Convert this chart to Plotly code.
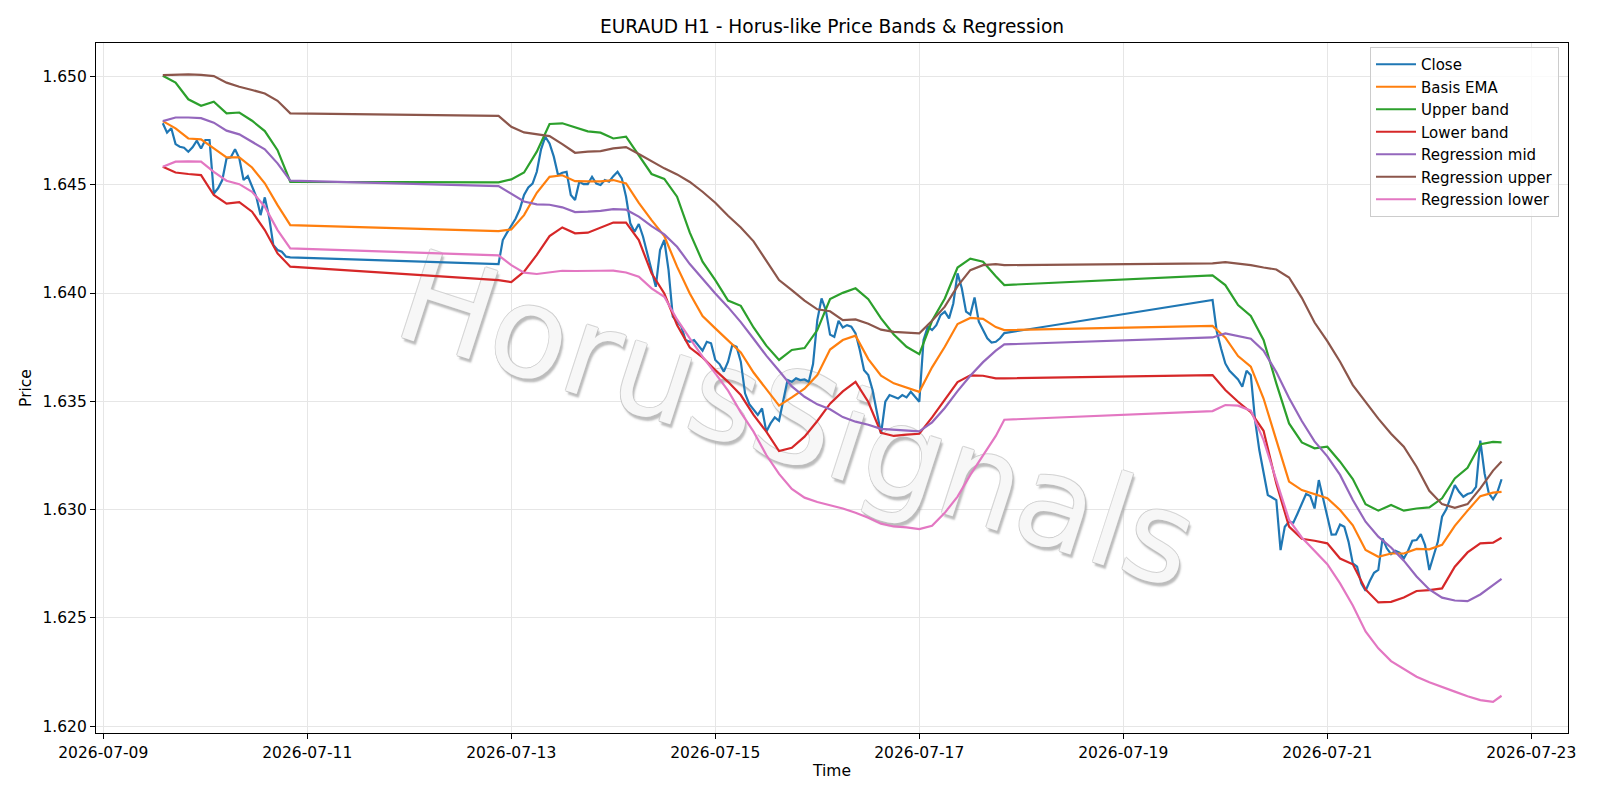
import pandas as pd
import plotly.graph_objects as go

# ---------------- time axis (hourly bars, weekend gaps) ----------------
SEG_A = pd.date_range("2026-07-09 14:00", "2026-07-10 20:00", freq="h")
SEG_B = pd.date_range("2026-07-12 21:00", "2026-07-17 20:00", freq="h")
SEG_C = pd.date_range("2026-07-19 21:00", "2026-07-22 17:00", freq="h")


def every3(seg):
    idx = list(range(0, len(seg), 3))
    if idx[-1] != len(seg) - 1:
        idx.append(len(seg) - 1)
    return seg[idx]


TIME_HOURLY = SEG_A.append(SEG_B).append(SEG_C)
TIME_3H = every3(SEG_A).append(every3(SEG_B)).append(every3(SEG_C))

# ---------------- Close (hourly) ----------------
CLOSE_A = [1.64784, 1.64741, 1.64761, 1.64688, 1.64676, 1.64671, 1.64653, 1.64673, 1.64704, 1.64668,
           1.64707, 1.64707, 1.64460, 1.64484, 1.64522, 1.64622, 1.64627, 1.64664, 1.64622, 1.64522,
           1.64540, 1.64491, 1.64445, 1.64360, 1.64442, 1.64353, 1.64222, 1.64199, 1.64191, 1.64168,
           1.64165]
CLOSE_B = [1.64134, 1.64245, 1.64279, 1.64314, 1.64343, 1.64387, 1.64453, 1.64488, 1.64506, 1.64560,
           1.64664, 1.64722, 1.64691, 1.64630, 1.64545, 1.64556, 1.64560, 1.64453, 1.64430, 1.64514,
           1.64503, 1.64503, 1.64537, 1.64506, 1.64499, 1.64522, 1.64514, 1.64540, 1.64560, 1.64530,
           1.64445, 1.64322, 1.64283, 1.64319, 1.64260, 1.64183, 1.64106, 1.64029, 1.64199, 1.64245,
           1.64106, 1.63891, 1.63868, 1.63845, 1.63783, 1.63775, 1.63783, 1.63760, 1.63734, 1.63775,
           1.63768, 1.63691, 1.63672, 1.63637, 1.63683, 1.63760, 1.63752, 1.63683, 1.63537, 1.63487,
           1.63460, 1.63437, 1.63467, 1.63360, 1.63398, 1.63426, 1.63410, 1.63498, 1.63598, 1.63590,
           1.63606, 1.63598, 1.63601, 1.63590, 1.63672, 1.63875, 1.63975, 1.63921, 1.63808, 1.63798,
           1.63872, 1.63841, 1.63852, 1.63845, 1.63814, 1.63737, 1.63644, 1.63621, 1.63552, 1.63452,
           1.63350, 1.63498, 1.63529, 1.63521, 1.63513, 1.63529, 1.63518, 1.63544, 1.63521, 1.63498,
           1.63783, 1.63845, 1.63829, 1.63852, 1.63898, 1.63914, 1.63883, 1.63952, 1.64091, 1.64022,
           1.63914, 1.63900, 1.63980, 1.63868, 1.63829, 1.63791, 1.63771, 1.63775, 1.63791, 1.63815]
CLOSE_C = [1.63968, 1.63821, 1.63744, 1.63675, 1.63641, 1.63621, 1.63601, 1.63567, 1.63641, 1.63621,
           1.63413, 1.63275, 1.63175, 1.63067, 1.63056, 1.63044, 1.62813, 1.62921, 1.62944, 1.62939,
           1.62982, 1.63028, 1.63072, 1.63062, 1.63005, 1.63136, 1.63053, 1.62967, 1.62884, 1.62885,
           1.62931, 1.62921, 1.62851, 1.62751, 1.62736, 1.62659, 1.62625, 1.62670, 1.62708, 1.62721,
           1.62867, 1.62821, 1.62794, 1.62810, 1.62801, 1.62774, 1.62810, 1.62856, 1.62859, 1.62887,
           1.62836, 1.62721, 1.62782, 1.62851, 1.62967, 1.63001, 1.63056, 1.63113, 1.63082, 1.63059,
           1.63072, 1.63078, 1.63105, 1.63318, 1.63167, 1.63075, 1.63048, 1.63080, 1.63140]
CLOSE = CLOSE_A + CLOSE_B + CLOSE_C

# ---------------- indicator lines (sampled every 3 hours) ----------------
BASIS_EMA = [
    1.64794, 1.64761, 1.64714, 1.64710, 1.64668, 1.64627, 1.64627, 1.64580, 1.64507, 1.64406, 1.64314,
    1.64286, 1.64294, 1.64360, 1.64463, 1.64537, 1.64544, 1.64517, 1.64516, 1.64516, 1.64522, 1.64506,
    1.64417, 1.64337, 1.64263, 1.64122, 1.63998, 1.63894, 1.63837, 1.63783, 1.63726, 1.63633, 1.63557,
    1.63480, 1.63518, 1.63558, 1.63621, 1.63739, 1.63783, 1.63803, 1.63695, 1.63618, 1.63583, 1.63564,
    1.63544, 1.63657, 1.63752, 1.63857, 1.63885, 1.63881, 1.63843, 1.63829,
    1.63848, 1.63794, 1.63709, 1.63660, 1.63513, 1.63321, 1.63129, 1.63090, 1.63070, 1.63052, 1.62998,
    1.62927, 1.62813, 1.62782, 1.62797, 1.62797, 1.62818, 1.62816, 1.62837, 1.62925, 1.62995, 1.63062,
    1.63078, 1.63082]
UPPER_BAND = [
    1.65004, 1.64972, 1.64895, 1.64865, 1.64884, 1.64830, 1.64834, 1.64796, 1.64748, 1.64660, 1.64514,
    1.64511, 1.64525, 1.64557, 1.64653, 1.64781, 1.64784, 1.64765, 1.64747, 1.64741, 1.64714, 1.64722,
    1.64637, 1.64550, 1.64527, 1.64445, 1.64279, 1.64145, 1.64060, 1.63965, 1.63941, 1.63841, 1.63757,
    1.63691, 1.63737, 1.63746, 1.63829, 1.63972, 1.64001, 1.64022, 1.63972, 1.63883, 1.63809, 1.63752,
    1.63718, 1.63872, 1.63975, 1.64118, 1.64159, 1.64145, 1.64078, 1.64037,
    1.64082, 1.64037, 1.63945, 1.63894, 1.63783, 1.63583, 1.63398, 1.63310, 1.63283, 1.63290, 1.63221,
    1.63141, 1.63025, 1.62995, 1.63021, 1.62995, 1.63005, 1.63010, 1.63052, 1.63144, 1.63193, 1.63302,
    1.63313, 1.63310]
LOWER_BAND = [
    1.64583, 1.64557, 1.64550, 1.64545, 1.64453, 1.64413, 1.64420, 1.64376, 1.64291, 1.64183, 1.64122,
    1.64060, 1.64051, 1.64099, 1.64176, 1.64263, 1.64303, 1.64276, 1.64279, 1.64303, 1.64326, 1.64325,
    1.64245, 1.64091, 1.63998, 1.63852, 1.63748, 1.63703, 1.63644, 1.63590, 1.63529, 1.63437, 1.63360,
    1.63270, 1.63285, 1.63337, 1.63409, 1.63489, 1.63546, 1.63590, 1.63497, 1.63355, 1.63340, 1.63346,
    1.63350, 1.63426, 1.63506, 1.63589, 1.63620, 1.63618, 1.63606, 1.63606,
    1.63621, 1.63552, 1.63498, 1.63450, 1.63364, 1.63121, 1.62921, 1.62865, 1.62856, 1.62844, 1.62774,
    1.62747, 1.62631, 1.62571, 1.62574, 1.62594, 1.62624, 1.62628, 1.62636, 1.62736, 1.62802, 1.62844,
    1.62847, 1.62870]
REG_MID = [
    1.64794, 1.64811, 1.64811, 1.64808, 1.64787, 1.64750, 1.64733, 1.64699, 1.64664, 1.64599, 1.64519,
    1.64494, 1.64460, 1.64423, 1.64410, 1.64408, 1.64396, 1.64374, 1.64376, 1.64380, 1.64388, 1.64385,
    1.64353, 1.64309, 1.64271, 1.64214, 1.64134, 1.64065, 1.63998, 1.63935, 1.63866, 1.63789, 1.63711,
    1.63641, 1.63569, 1.63521, 1.63486, 1.63463, 1.63427, 1.63406, 1.63392, 1.63373, 1.63369, 1.63366,
    1.63361, 1.63403, 1.63469, 1.63547, 1.63618, 1.63681, 1.63734, 1.63763,
    1.63795, 1.63814, 1.63803, 1.63789, 1.63734, 1.63635, 1.63515, 1.63409, 1.63315, 1.63246, 1.63160,
    1.63044, 1.62944, 1.62875, 1.62825, 1.62764, 1.62691, 1.62631, 1.62593, 1.62580, 1.62577, 1.62608,
    1.62651, 1.62680]
REG_UPPER = [
    1.65007, 1.65010, 1.65010, 1.65008, 1.65002, 1.64972, 1.64953, 1.64938, 1.64922, 1.64888, 1.64830,
    1.64818, 1.64768, 1.64742, 1.64733, 1.64725, 1.64688, 1.64648, 1.64653, 1.64656, 1.64668, 1.64674,
    1.64642, 1.64607, 1.64576, 1.64548, 1.64513, 1.64468, 1.64417, 1.64357, 1.64303, 1.64239, 1.64150,
    1.64060, 1.64014, 1.63965, 1.63925, 1.63916, 1.63875, 1.63878, 1.63858, 1.63831, 1.63821, 1.63817,
    1.63814, 1.63872, 1.63937, 1.64032, 1.64106, 1.64129, 1.64134, 1.64129,
    1.64137, 1.64143, 1.64137, 1.64129, 1.64118, 1.64109, 1.64072, 1.63978, 1.63864, 1.63778, 1.63683,
    1.63575, 1.63497, 1.63420, 1.63350, 1.63290, 1.63198, 1.63087, 1.63025, 1.63008, 1.63025, 1.63098,
    1.63180, 1.63222]
REG_LOWER = [
    1.64583, 1.64607, 1.64608, 1.64607, 1.64560, 1.64519, 1.64503, 1.64468, 1.64399, 1.64291, 1.64206,
    1.64174, 1.64129, 1.64094, 1.64088, 1.64095, 1.64103, 1.64102, 1.64104, 1.64103, 1.64104, 1.64095,
    1.64076, 1.64022, 1.63983, 1.63878, 1.63791, 1.63706, 1.63629, 1.63549, 1.63449, 1.63360, 1.63252,
    1.63165, 1.63095, 1.63055, 1.63035, 1.63020, 1.63005, 1.62985, 1.62962, 1.62935, 1.62922, 1.62918,
    1.62910, 1.62925, 1.62985, 1.63060, 1.63160, 1.63250, 1.63340, 1.63415,
    1.63455, 1.63483, 1.63480, 1.63457, 1.63321, 1.63136, 1.62952, 1.62871, 1.62810, 1.62748, 1.62659,
    1.62557, 1.62437, 1.62359, 1.62300, 1.62263, 1.62228, 1.62202, 1.62182, 1.62159, 1.62138, 1.62120,
    1.62112, 1.62140]

SERIES = [
    ("Close", TIME_HOURLY, CLOSE, "#1f77b4"),
    ("Basis EMA", TIME_3H, BASIS_EMA, "#ff7f0e"),
    ("Upper band", TIME_3H, UPPER_BAND, "#2ca02c"),
    ("Lower band", TIME_3H, LOWER_BAND, "#d62728"),
    ("Regression mid", TIME_3H, REG_MID, "#9467bd"),
    ("Regression upper", TIME_3H, REG_UPPER, "#8c564b"),
    ("Regression lower", TIME_3H, REG_LOWER, "#e377c2"),
]

Y_TICKS = [1.620, 1.625, 1.630, 1.635, 1.640, 1.645, 1.650]
X_TICKS = ["2026-07-09", "2026-07-11", "2026-07-13", "2026-07-15",
           "2026-07-17", "2026-07-19", "2026-07-21", "2026-07-23"]

TITLE = "EURAUD H1 - Horus-like Price Bands & Regression"
WATERMARK = "HorusSignals"

FONT = "DejaVu Sans"
TICK_SIZE = 15.5

fig = go.Figure()
for name, xs, ys, color in SERIES:
    fig.add_trace(go.Scatter(
        x=xs, y=ys, name=name, mode="lines",
        line=dict(color=color, width=2.2),
    ))

WM_SHADOW = ("-1px 0px 0px rgba(200,200,200,0.9), 0px -1px 0px rgba(200,200,200,0.9), "
             "1px 0px 0px rgba(190,190,190,0.9), 0px 1px 0px rgba(190,190,190,0.9), "
             "3px 3px 2px rgba(150,150,150,0.75)")
WM_X, WM_Y = "2026-07-15 20:00", 1.63455
try:
    fig.add_shape(
        type="rect", xref="x", yref="y",
        x0="2026-07-14 20:00", x1="2026-07-16 20:00", y0=1.6336, y1=1.6355,
        line=dict(width=0), fillcolor="rgba(0,0,0,0)", layer="between",
        label=dict(text=WATERMARK, textangle=18, textposition="middle center",
                   font=dict(family=FONT, size=127, color="rgba(255,255,255,0.85)",
                             shadow=WM_SHADOW)),
    )
except Exception:
    fig.add_annotation(
        text=WATERMARK, x=WM_X, y=WM_Y, xref="x", yref="y",
        showarrow=False, textangle=18,
        font=dict(family=FONT, size=127, color="rgba(255,255,255,0.3)", shadow=WM_SHADOW),
    )

fig.update_layout(
    width=1600, height=800,
    margin=dict(l=96, r=32, t=43, b=67),
    paper_bgcolor="white", plot_bgcolor="white",
    font=dict(family=FONT, size=TICK_SIZE, color="black"),
    title=dict(text=TITLE, x=0.5, xref="paper", xanchor="center",
               y=1 - 26 / 800, yref="container", yanchor="middle",
               font=dict(family=FONT, size=18.6, color="black")),
    legend=dict(x=1 - 9 / 1472, y=1 - 4 / 690, xanchor="right", yanchor="top",
                bgcolor="rgba(255,255,255,0.8)", bordercolor="#cccccc", borderwidth=1,
                font=dict(family=FONT, size=15), itemwidth=40),
    showlegend=True,
)

fig.update_xaxes(
    range=["2026-07-08 22:17", "2026-07-23 08:38"],
    tickvals=X_TICKS, ticktext=X_TICKS,
    showgrid=True, gridcolor="#e6e6e6", gridwidth=1,
    showline=True, mirror=True, linecolor="black", linewidth=1.2,
    ticks="outside", ticklen=5, tickcolor="black", tickwidth=1.2,
    tickfont=dict(family=FONT, size=TICK_SIZE),
    title=dict(text="Time", font=dict(family=FONT, size=TICK_SIZE), standoff=4),
    zeroline=False,
)
fig.update_yaxes(
    range=[1.61968, 1.65155],
    tickvals=Y_TICKS, tickformat=".3f",
    showgrid=True, gridcolor="#e6e6e6", gridwidth=1,
    showline=True, mirror=True, linecolor="black", linewidth=1.2,
    ticks="outside", ticklen=5, tickcolor="black", tickwidth=1.2,
    tickfont=dict(family=FONT, size=TICK_SIZE),
    title=dict(text="Price", font=dict(family=FONT, size=TICK_SIZE), standoff=6),
    zeroline=False,
)

fig.write_html("out.html")
